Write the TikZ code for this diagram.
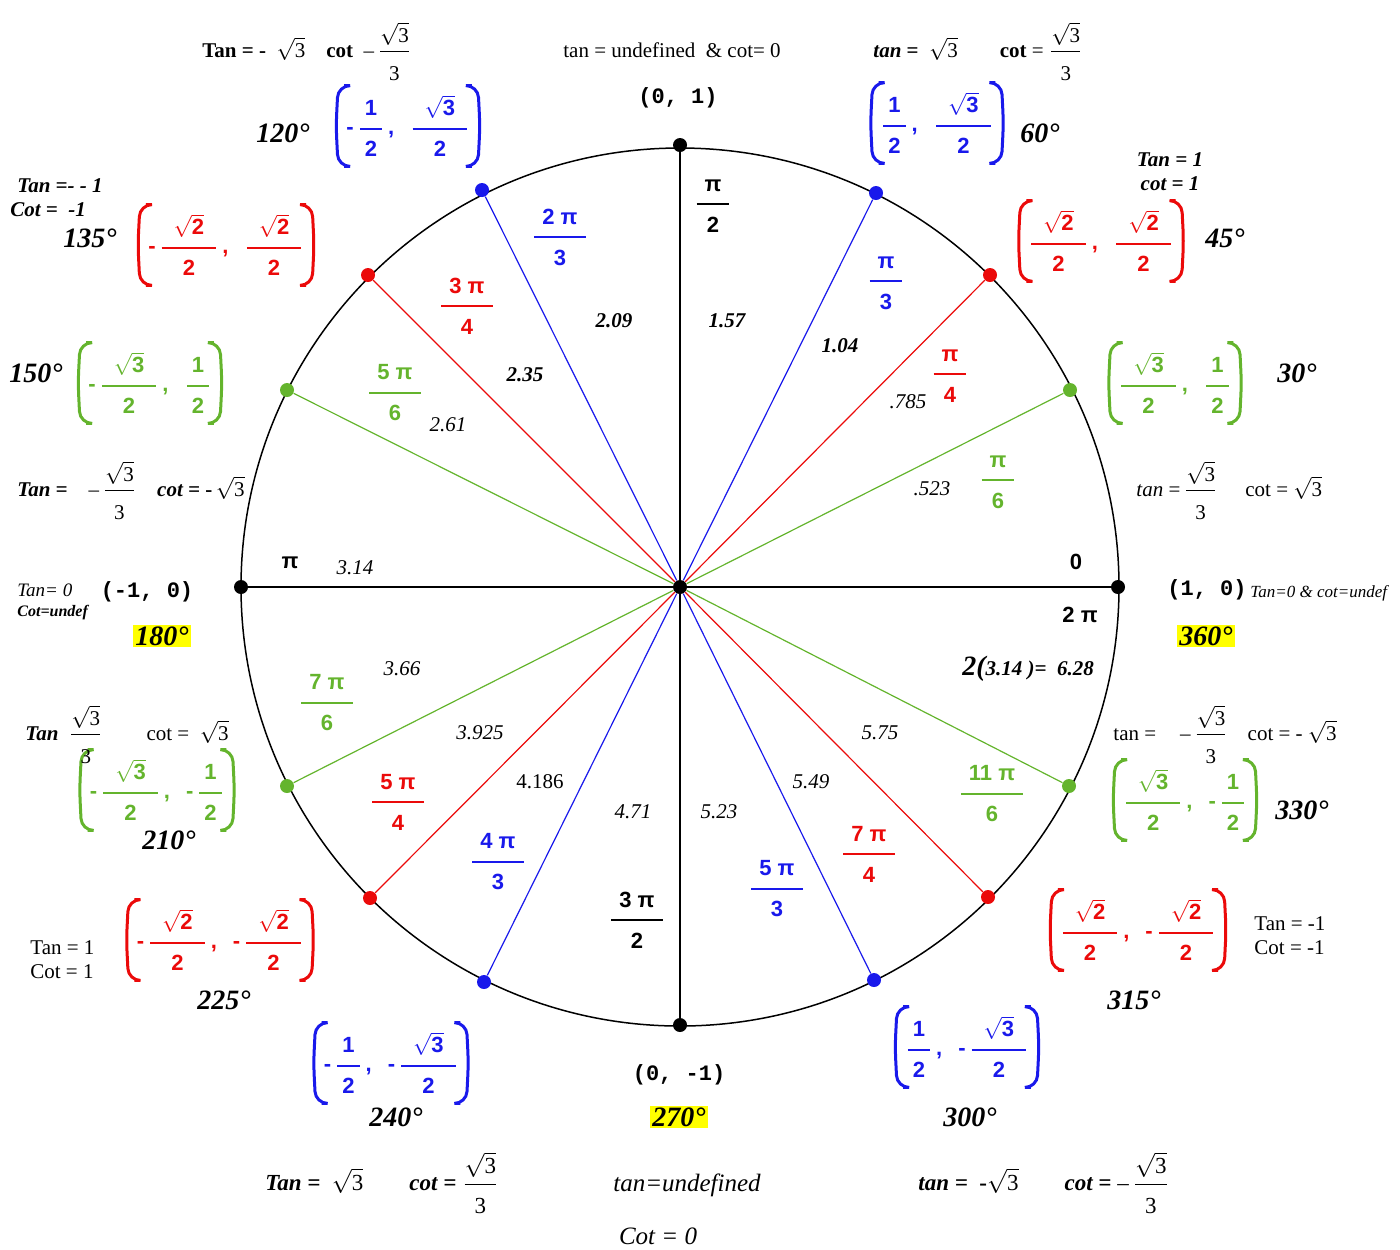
\documentclass[tikz,border=0pt]{standalone}
\usepackage{amsmath}
\usepackage{fontspec}
\setmainfont{Liberation Serif}
\setsansfont{Liberation Sans}
\setmonofont{Liberation Mono}
\usetikzlibrary{positioning}
\definecolor{xblue}{RGB}{25,25,235}
\definecolor{xred}{RGB}{235,10,10}
\definecolor{xgreen}{RGB}{100,180,45}
\definecolor{xyellow}{RGB}{255,255,0}
% fonts
\newcommand{\tfont}{\fontsize{10.5}{12}\selectfont}
\newcommand{\pfont}{\fontsize{11}{12}\selectfont\sffamily\bfseries}
\newcommand{\rfont}{\fontsize{11}{12}\selectfont\sffamily\bfseries}
\newcommand{\dgfont}{\fontsize{14}{16}\selectfont\bfseries\itshape}
\newcommand{\mfont}{\fontsize{11}{12}\selectfont\ttfamily\bfseries}
\newcommand{\vfont}{\fontsize{10.5}{12}\selectfont}
% pieces of text
\newcommand{\sq}[1]{$\sqrt{\text{#1}}$}
\newcommand{\sqfr}{$\dfrac{\sqrt{\text{3}}}{\rule{0pt}{13pt}\text{3}}$}
\newcommand{\pfr}[3]{\genfrac{}{}{1pt}{0}{\rule[-3pt]{0pt}{3pt}\hspace{#1}#2\hspace{#1}}{\rule{0pt}{10.5pt}#3}}
\newcommand{\phalf}{\pfr{2.5pt}{\text{1}}{\text{2}}}
\newcommand{\pthree}{\pfr{6pt}{\sqrt{\text{3}}}{\text{2}}}
\newcommand{\ptwo}{\pfr{6pt}{\sqrt{\text{2}}}{\text{2}}}
\newcommand{\mn}{\text{-}\,}
\newcommand{\pair}[2]{$#1\text{\,,}\hspace{8pt}#2$}
\newcommand{\radf}[2]{$\genfrac{}{}{1pt}{0}{\rule[-3pt]{0pt}{3pt}\text{\hspace{4pt}#1\hspace{4pt}}}{\rule{0pt}{10.5pt}\text{#2}}$}
\begin{document}
\begin{tikzpicture}[x=0.5pt, y=-0.5pt,
  rim/.style={line width=0.75pt},
  axis/.style={line width=1pt},
  ray/.style={draw=#1, line width=0.6pt},
  dot/.style={circle, fill=#1, inner sep=0pt, minimum size=7pt},
  pair/.style={text=#1, font=\pfont, inner xsep=5pt, inner ysep=0pt, minimum height=40pt},
  bracket/.style={draw=#1, line width=1.5pt, rounded corners=6pt},
  rad/.style={text=#1, font=\rfont, inner sep=0pt},
  deg/.style={font=\dgfont, inner sep=1pt},
  hl/.style={deg, fill=xyellow},
  ptlab/.style={font=\mfont, inner sep=0pt},
  tlab/.style={font=\tfont, inner sep=0pt, anchor=base west},
  twolab/.style={font=\tfont, inner sep=0pt, align=#1},
  val/.style={font=\vfont\itshape, inner sep=0pt},
  bval/.style={font=\vfont\bfseries\itshape, inner sep=0pt}
]
  \useasboundingbox (0,0) rectangle (1400,1249);

  % unit circle
  \coordinate (O) at (680,587);
  \draw[rim] (O) circle[radius=439];

  % points on the circle
  \node[dot=black]  (c0)   at (680,587)  {};
  \node[dot=black]  (p0)   at (1118,587) {};
  \node[dot=xgreen] (p30)  at (1070,390) {};
  \node[dot=xred]   (p45)  at (990,275)  {};
  \node[dot=xblue]  (p60)  at (876,193)  {};
  \node[dot=black]  (p90)  at (680,145)  {};
  \node[dot=xblue]  (p120) at (482,190)  {};
  \node[dot=xred]   (p135) at (368,275)  {};
  \node[dot=xgreen] (p150) at (287,390)  {};
  \node[dot=black]  (p180) at (241,587)  {};
  \node[dot=xgreen] (p210) at (287,786)  {};
  \node[dot=xred]   (p225) at (370,898)  {};
  \node[dot=xblue]  (p240) at (484,982)  {};
  \node[dot=black]  (p270) at (680,1025) {};
  \node[dot=xblue]  (p300) at (874,980)  {};
  \node[dot=xred]   (p315) at (988,897)  {};
  \node[dot=xgreen] (p330) at (1069,786) {};

  \foreach \pt/\col in {p30/xgreen, p45/xred, p60/xblue, p120/xblue,
      p135/xred, p150/xgreen, p210/xgreen, p225/xred, p240/xblue,
      p300/xblue, p315/xred, p330/xgreen}
    \draw[ray=\col] (c0) -- (\pt);
  \draw[axis] (p180) -- (c0) -- (p0);
  \draw[axis] (p90) -- (c0) -- (p270);

  % radian labels
  \node[rad=black]  (r90)  at (713,206) {\radf{π}{2}};
  \node[rad=xblue]  (r60)  at (886,283) {\radf{π}{3}};
  \node[rad=xblue]  (r120) at (560,237) {\radf{2 π}{3}};
  \node[rad=xred]   (r135) at (467,306) {\radf{3 π}{4}};
  \node[rad=xred]   (r45)  at (950,376) {\radf{π}{4}};
  \node[rad=xgreen] (r150) at (395,393) {\radf{5 π}{6}};
  \node[rad=xgreen] (r30)  at (998,482) {\radf{π}{6}};
  \node[rad=xgreen] (r210) at (327,703) {\radf{7 π}{6}};
  \node[rad=xred]   (r225) at (398,802) {\radf{5 π}{4}};
  \node[rad=xblue]  (r240) at (498,862) {\radf{4 π}{3}};
  \node[rad=black]  (r270) at (637,920) {\radf{3 π}{2}};
  \node[rad=xblue]  (r300) at (777,889) {\radf{5 π}{3}};
  \node[rad=xred]   (r315) at (869,854) {\radf{7 π}{4}};
  \node[rad=xgreen] (r330) at (992,794) {\radf{11 π}{6}};
  \node[rad=black]  (r180) at (290,563) {π};
  \node[rad=black]  (r0)   at (1076,562) {0};
  \node[rad=black]  (r360) at (1080,615) {2 π};

  % decimal values
  \node[bval] (v90)  at (727,321) {1.57};
  \node[bval] (v60)  at (840,346) {1.04};
  \node[bval] (v120) at (614,321) {2.09};
  \node[bval] (v135) at (525,375) {2.35};
  \node[val]  (v45)  at (908,402) {.785};
  \node[val]  (v150) at (448,425) {2.61};
  \node[val]  (v30)  at (932,489) {.523};
  \node[val]  (v180) at (355,568) {3.14};
  \node[val]  (v210) at (402,669) {3.66};
  \node[val]  (v225) at (480,733) {3.925};
  \node[font=\vfont, inner sep=0pt] (v240) at (540,782) {4.186};
  \node[val]  (v270) at (633,812) {4.71};
  \node[val]  (v300) at (719,812) {5.23};
  \node[val]  (v315) at (811,782) {5.49};
  \node[val]  (v330) at (880,733) {5.75};
  \node[bval] (v360) at (1028,669) {{\fontsize{14}{14}\selectfont 2(}3.14 )=\ \ 6.28};

  % points on the axes
  \node[ptlab] (l90)  at (678,98)   {(0, 1)};
  \node[ptlab] (l180) at (147,592)  {(-1, 0)};
  \node[ptlab] (l0)   at (1207,590) {(1, 0)};
  \node[ptlab] (l270) at (679,1075) {(0, -1)};

  % coordinate pairs
  \node[pair=xblue]  (c120) at (408,126)  {\pair{\mn\phalf}{\pthree}};
  \node[pair=xblue]  (c60)  at (937,123)  {\pair{\phalf}{\pthree}};
  \node[pair=xred]   (c45)  at (1101,241) {\pair{\ptwo}{\ptwo}};
  \node[pair=xred]   (c135) at (226,245)  {\pair{\mn\ptwo}{\ptwo}};
  \node[pair=xgreen] (c150) at (150,383)  {\pair{\mn\pthree}{\phalf}};
  \node[pair=xgreen] (c30)  at (1175,383) {\pair{\pthree}{\phalf}};
  \node[pair=xgreen] (c210) at (157,790)  {\pair{\mn\pthree}{\mn\phalf}};
  \node[pair=xgreen] (c330) at (1185,800) {\pair{\pthree}{\mn\phalf}};
  \node[pair=xred]   (c225) at (220,940)  {\pair{\mn\ptwo}{\mn\ptwo}};
  \node[pair=xred]   (c315) at (1138,930) {\pair{\ptwo}{\mn\ptwo}};
  \node[pair=xblue]  (c240) at (391,1063) {\pair{\mn\phalf}{\mn\pthree}};
  \node[pair=xblue]  (c300) at (967,1047) {\pair{\phalf}{\mn\pthree}};

  \foreach \c/\col in {c120/xblue, c60/xblue, c45/xred, c135/xred,
      c150/xgreen, c30/xgreen, c210/xgreen, c330/xgreen, c225/xred,
      c315/xred, c240/xblue, c300/xblue} {
    \draw[bracket=\col] ([xshift=4pt]\c.north west) -- ([xshift=1pt]\c.north west)
      -- (\c.west) -- ([xshift=1pt]\c.south west) -- ([xshift=4pt]\c.south west);
    \draw[bracket=\col] ([xshift=-4pt]\c.north east) -- ([xshift=-1pt]\c.north east)
      -- (\c.east) -- ([xshift=-1pt]\c.south east) -- ([xshift=-4pt]\c.south east);
  }

  % degrees
  \node[deg] (d120) at (283,133)  {120°};
  \node[deg] (d60)  at (1040,133) {60°};
  \node[deg] (d45)  at (1225,238) {45°};
  \node[deg] (d135) at (90,238)   {135°};
  \node[deg] (d150) at (36,373)   {150°};
  \node[deg] (d30)  at (1297,373) {30°};
  \node[hl]  (d180) at (162,636)  {180°};
  \node[hl]  (d360) at (1206,636) {360°};
  \node[deg] (d210) at (169,840)  {210°};
  \node[deg] (d330) at (1302,810) {330°};
  \node[deg] (d225) at (224,1000) {225°};
  \node[deg] (d315) at (1134,1000) {315°};
  \node[deg] (d240) at (396,1117) {240°};
  \node[deg] (d300) at (970,1117) {300°};
  \node[hl]  (d270) at (679,1117) {270°};

  % tan and cot
  \node[tlab] (tc120) at (202,57)
    {\textbf{Tan = -}\ \ \sq{3}\quad \textbf{cot}\ \ –\,\sqfr};
  \node[tlab, anchor=base] (tc90) at (672,57)
    {tan = undefined\ \ \& cot= 0};
  \node[tlab] (tc60) at (873,57)
    {\textbf{\textit{tan} =}\ \ \sq{3}\qquad \textbf{cot} = \sqfr};
  \node[twolab=center, font=\tfont\bfseries\itshape] (tc45) at (1170,172)
    {Tan = 1\\cot = 1};
  \node[twolab=left, font=\tfont\bfseries\itshape, anchor=west] (tc135) at (10,198)
    {\hspace{3.5pt}Tan =- - 1\\Cot = \ -1};
  \node[tlab] (tc150) at (17,496)
    {\textbf{\textit{Tan =}}\quad –\,\sqfr\quad \textbf{\textit{cot =}}\ \textbf{-}\,\sq{3}};
  \node[tlab] (tc30) at (1136,496)
    {\textit{tan} =\,\sqfr\hspace{14pt}cot =\ \sq{3}};
  \node[tlab, font=\fontsize{9.5}{10}\selectfont\itshape] (tc180a) at (17,596) {Tan= 0};
  \node[tlab, font=\fontsize{8}{9}\selectfont\bfseries\itshape] (tc180b) at (17,616) {Cot=undef};
  \node[tlab, font=\fontsize{8.5}{9}\selectfont\itshape] (tc0) at (1250,597) {Tan=0 \& cot=undef};
  \node[tlab] (tc210) at (25,740)
    {\textbf{\textit{Tan}}\ \ \sqfr\hspace{22pt}cot =\ \ \sq{3}};
  \node[tlab] (tc330) at (1113,740)
    {tan =\hspace{12pt}–\,\sqfr\hspace{10pt}cot = - \sq{3}};
  \node[twolab=left, anchor=west] (tc225) at (30,960) {Tan = 1\\Cot = 1};
  \node[twolab=left, anchor=west] (tc315) at (1254,936) {Tan = -1\\Cot = -1};
  \node[tlab, font=\fontsize{11.5}{13}\selectfont] (tc240) at (265,1190)
    {\textbf{\textit{Tan =}}\ \ \sq{3}\qquad\textbf{\textit{cot =}}\ \sqfr};
  \node[tlab, anchor=base, font=\fontsize{12.5}{14}\selectfont\itshape] (tc270a) at (687,1191)
    {tan=undefined};
  \node[tlab, anchor=base, font=\fontsize{12.5}{14}\selectfont\itshape] (tc270b) at (658,1244)
    {Cot = 0};
  \node[tlab, font=\fontsize{11.5}{13}\selectfont] (tc300) at (918,1190)
    {\textbf{\textit{tan =}}\ \ \textbf{-}\sq{3}\qquad\textbf{\textit{cot =}}\ –\,\sqfr};
\end{tikzpicture}
\end{document}
